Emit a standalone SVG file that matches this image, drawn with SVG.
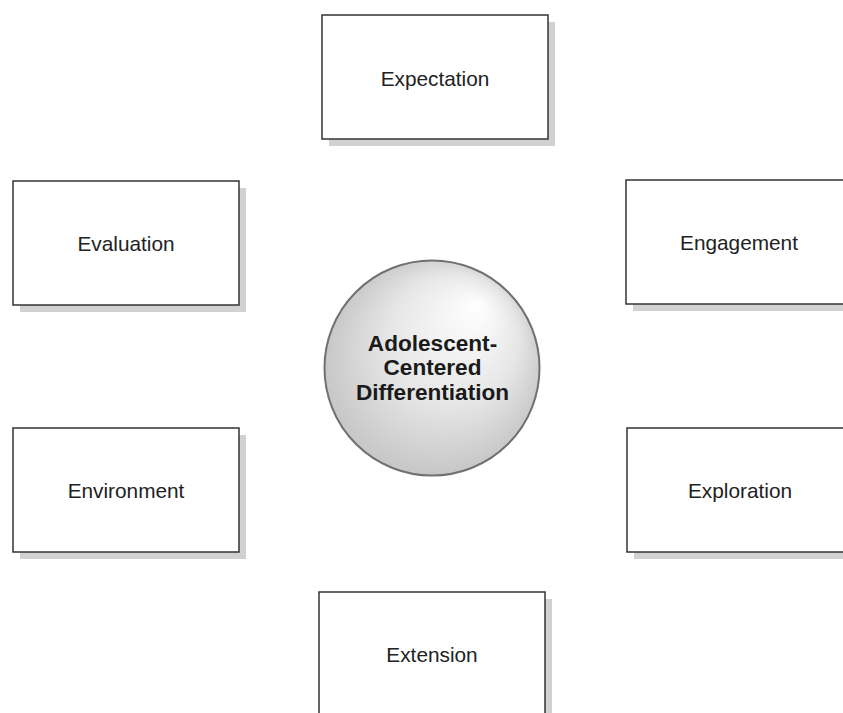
<svg xmlns="http://www.w3.org/2000/svg" width="843" height="713" viewBox="0 0 843 713">
<style>
.shadow{fill:#d1d1d3;}
.box{fill:#ffffff;stroke:#333333;stroke-width:1.5;}
.lbl{font-family:"Liberation Sans",Arial,sans-serif;font-size:20.8px;fill:#222222;text-anchor:middle;}
.hub{font-family:"Liberation Sans",Arial,sans-serif;font-size:22.6px;font-weight:bold;fill:#1a1a1a;text-anchor:middle;}
</style>
<defs>
<radialGradient id="sphere" cx="0.5" cy="0.5" r="0.55" fx="0.72" fy="0.2">
<stop offset="0" stop-color="#ffffff"/>
<stop offset="0.55" stop-color="#e6e6e6"/>
<stop offset="1" stop-color="#c2c2c2"/>
</radialGradient>
</defs>
<rect width="843" height="713" fill="#ffffff"/>
<g id="connectors"></g>
<g id="node-expectation">
<rect class="shadow" x="329" y="22" width="226" height="124"/>
<rect class="box" x="322" y="15" width="226" height="124"/>
<text class="lbl" x="435" y="85.5">Expectation</text>
</g>
<g id="node-evaluation">
<rect class="shadow" x="20" y="188" width="226" height="124"/>
<rect class="box" x="13" y="181" width="226" height="124"/>
<text class="lbl" x="126" y="251">Evaluation</text>
</g>
<g id="node-engagement">
<rect class="shadow" x="633" y="187" width="226" height="124"/>
<rect class="box" x="626" y="180" width="226" height="124"/>
<text class="lbl" x="739" y="250">Engagement</text>
</g>
<g id="node-environment">
<rect class="shadow" x="20" y="435" width="226" height="124"/>
<rect class="box" x="13" y="428" width="226" height="124"/>
<text class="lbl" x="126" y="498">Environment</text>
</g>
<g id="node-exploration">
<rect class="shadow" x="634" y="435" width="226" height="124"/>
<rect class="box" x="627" y="428" width="226" height="124"/>
<text class="lbl" x="740" y="498">Exploration</text>
</g>
<g id="node-extension">
<rect class="shadow" x="326" y="599" width="226" height="124"/>
<rect class="box" x="319" y="592" width="226" height="124"/>
<text class="lbl" x="432" y="662">Extension</text>
</g>
<g id="node-center">
<circle cx="432" cy="368" r="107.5" fill="url(#sphere)" stroke="#707070" stroke-width="2"/>
<text class="hub" x="432.5" y="350.5">Adolescent-</text>
<text class="hub" x="432.5" y="375">Centered</text>
<text class="hub" x="432.5" y="399.5">Differentiation</text>
</g>
</svg>
